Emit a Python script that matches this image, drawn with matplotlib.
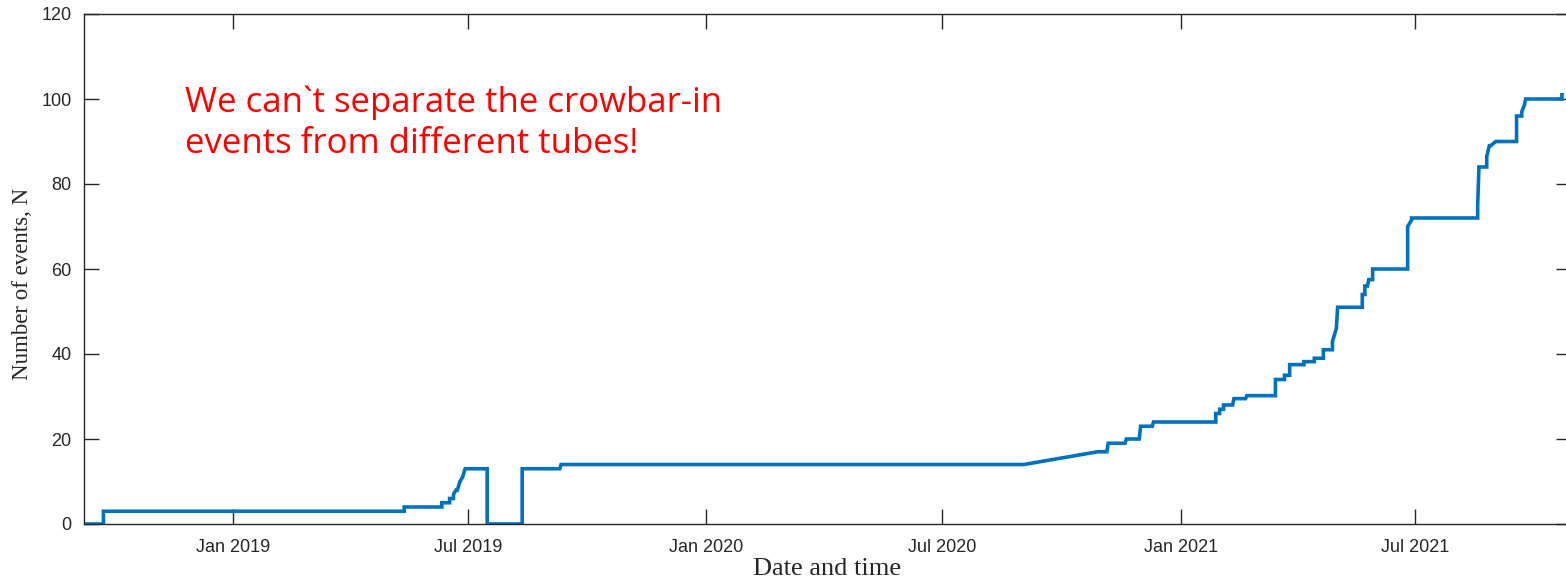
"""Cumulative crowbar-in event count over time."""

import matplotlib

matplotlib.use("Agg")
import matplotlib.pyplot as plt
import numpy as np

# vertices of the cumulative curve (repeated dates give the vertical jumps)
event_dates = [
    "2018-09-08", "2018-09-23", "2018-09-23", "2019-05-13", "2019-05-13",
    "2019-06-11", "2019-06-11", "2019-06-17", "2019-06-17", "2019-06-20",
    "2019-06-20", "2019-06-22", "2019-06-23", "2019-06-24", "2019-06-25",
    "2019-06-26", "2019-06-27", "2019-06-28", "2019-06-29", "2019-07-16",
    "2019-07-16", "2019-08-12", "2019-08-12", "2019-09-10", "2019-09-11",
    "2020-09-02", "2020-10-29", "2020-11-05", "2020-11-06", "2020-11-19",
    "2020-11-20", "2020-11-30", "2020-12-01", "2020-12-10", "2020-12-11",
    "2021-01-28", "2021-01-28", "2021-01-31", "2021-01-31", "2021-02-03",
    "2021-02-03", "2021-02-10", "2021-02-11", "2021-02-20", "2021-02-21",
    "2021-03-15", "2021-03-15", "2021-03-22", "2021-03-22", "2021-03-26",
    "2021-03-26", "2021-04-06", "2021-04-06", "2021-04-14", "2021-04-14",
    "2021-04-21", "2021-04-21", "2021-04-28", "2021-04-28", "2021-05-01",
    "2021-05-02", "2021-05-03", "2021-05-21", "2021-05-21", "2021-05-23",
    "2021-05-23", "2021-05-25", "2021-05-26", "2021-05-29", "2021-05-29",
    "2021-06-01", "2021-06-25", "2021-06-25", "2021-06-28", "2021-06-28",
    "2021-08-18", "2021-08-18", "2021-08-19", "2021-08-25", "2021-08-25",
    "2021-08-27", "2021-08-28", "2021-09-01", "2021-09-17", "2021-09-17",
    "2021-09-21", "2021-09-21", "2021-09-23", "2021-09-24", "2021-09-29",
    "2021-10-22", "2021-10-22",
]
event_counts = [
    0, 0, 3, 3, 4,
    4, 5, 5, 6, 6,
    7, 8, 8, 9, 10,
    10.5, 11, 12, 13, 13,
    0, 0, 13, 13, 14,
    14, 17, 17, 19, 19,
    20, 20, 23, 23, 24,
    24, 26, 26, 27, 27,
    28, 28, 29.5, 29.5, 30.2,
    30.2, 34, 34, 35, 35,
    37.5, 37.5, 38.2, 38.2, 39,
    39, 41, 41, 43, 46,
    51, 51, 51, 54, 54,
    56, 56, 57.5, 57.5, 60,
    60, 60, 70, 71.5, 72,
    72, 75, 84, 84, 86.5,
    89, 89, 90, 90, 96,
    96, 97, 98.5, 100, 100,
    100, 101,
]

y_ticks = [0, 20, 40, 60, 80, 100, 120]
x_tick_dates = ["2019-01-01", "2019-07-01", "2020-01-01",
                "2020-07-01", "2021-01-01", "2021-07-01"]
x_tick_labels = ["Jan 2019", "Jul 2019", "Jan 2020",
                 "Jul 2020", "Jan 2021", "Jul 2021"]

note = "We can`t separate the crowbar-in\nevents from different tubes!"

axis_gray = "#262626"

fig = plt.figure(figsize=(15.66, 5.79), dpi=100)
ax = fig.add_axes([84 / 1566, 55 / 579, (1571 - 84) / 1566, 510 / 579])

t = np.array(event_dates, dtype="datetime64[D]")
ax.plot(t, event_counts, color="#0072BD", lw=2.6, solid_joinstyle="miter")

ax.set_xlim(np.datetime64("2018-09-08"), np.datetime64("2021-10-29"))
ax.set_ylim(0, 120)
ax.set_yticks(y_ticks)
ax.set_xticks(np.array(x_tick_dates, dtype="datetime64[D]"))
ax.set_xticklabels(x_tick_labels)

for side in ax.spines.values():
    side.set_color(axis_gray)
    side.set_linewidth(1.0)
ax.tick_params(direction="in", length=11, width=1.0, color=axis_gray,
               top=True, right=True, labelsize=13, labelcolor=axis_gray)
ax.tick_params(axis="x", pad=11)
ax.tick_params(axis="y", pad=9)
for lab in ax.get_xticklabels() + ax.get_yticklabels():
    lab.set_family("Liberation Sans")

ax.set_xlabel("Date and time", family="Liberation Serif", fontsize=19,
              color=axis_gray, labelpad=1)
ax.set_ylabel("Number of events, N", family="Liberation Serif", fontsize=16.5,
              color=axis_gray)
ax.yaxis.set_label_coords(-0.034, 0.47)

fig.text(185 / 1566, 1 - 85 / 579, note, color="#FF0000", fontsize=25,
         family="Open Sans", va="top", ha="left", linespacing=1.28)

fig.savefig("out.png", dpi=100)
